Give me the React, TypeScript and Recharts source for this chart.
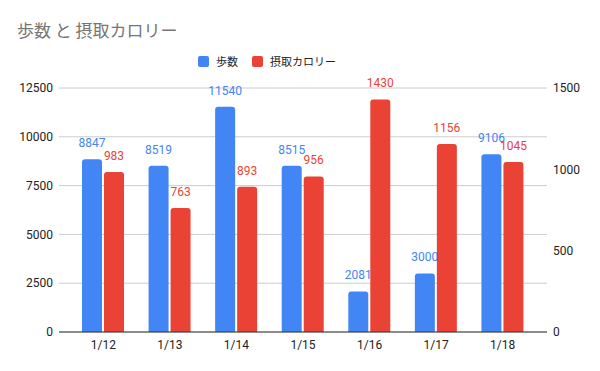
import { BarChart, Bar, XAxis, YAxis, CartesianGrid, LabelList } from 'recharts';

const dates = ['1/12', '1/13', '1/14', '1/15', '1/16', '1/17', '1/18'];
const steps = [8847, 8519, 11540, 8515, 2081, 3000, 9106];
const calories = [983, 763, 893, 956, 1430, 1156, 1045];
const stepTicks = [0, 2500, 5000, 7500, 10000, 12500];
const calTicks = [0, 500, 1000, 1500];

const BLUE = '#4285F4';
const RED = '#EA4335';

const data = dates.map((d, i) => ({ date: d, steps: steps[i], calories: calories[i] }));

const legendItems = [
  { name: '歩数', color: BLUE },
  { name: '摂取カロリー', color: RED },
];

const ChartLegend = () => (
  <div style={{ position: 'absolute', left: 198, top: 55, display: 'flex', gap: 14, fontSize: 11, lineHeight: '13px', color: '#222', fontFamily: '"Noto Sans CJK JP", sans-serif' }}>
    {legendItems.map((it) => (
      <div key={it.name} style={{ display: 'flex', alignItems: 'center' }}>
        <span style={{ width: 11, height: 11, borderRadius: 2, background: it.color, marginRight: 7, display: 'inline-block' }} />
        <span>{it.name}</span>
      </div>
    ))}
  </div>
);

export default function App() {
  const font = 'Roboto, "Noto Sans CJK JP", Arial, sans-serif';
  return (
    <div style={{ position: 'absolute', left: 0, top: 0, width: 600, height: 371, background: '#fff', fontFamily: font }}>
      <div style={{ position: 'absolute', left: 17, top: 20, fontSize: 17, color: '#757575', fontFamily: '"Noto Sans CJK JP", sans-serif', lineHeight: '20px' }}>
        歩数 と 摂取カロリー
      </div>
      <ChartLegend />
      <BarChart
        width={600}
        height={371}
        data={data}
        margin={{ top: 88, right: 8, bottom: 9, left: 9 }}
        barSize={20}
        barGap={2}
      >
        <CartesianGrid vertical={false} stroke="#cccccc" yAxisId="left" />
        <XAxis
          dataKey="date"
          padding={{ left: 11, right: 11 }}
          height={30}
          tickLine={false}
          tickSize={0}
          tickMargin={8}
          axisLine={{ stroke: '#333' }}
          tick={{ fill: '#222', fontSize: 12, fontFamily: font }}
        />
        <YAxis
          yAxisId="left"
          orientation="left"
          width={50}
          domain={[0, 12500]}
          ticks={stepTicks}
          axisLine={false}
          tickLine={false}
          tickSize={0}
          tickMargin={6}
          tick={{ fill: '#222', fontSize: 12, fontFamily: font }}
        />
        <YAxis
          yAxisId="right"
          orientation="right"
          width={45}
          domain={[0, 1500]}
          ticks={calTicks}
          axisLine={false}
          tickLine={false}
          tickSize={0}
          tickMargin={6}
          tick={{ fill: '#222', fontSize: 12, fontFamily: font, textAnchor: 'start' }}
        />
        <Bar yAxisId="left" dataKey="steps" name="歩数" fill={BLUE} radius={[3, 3, 0, 0]} isAnimationActive={false}>
          <LabelList dataKey="steps" position="top" offset={12} fill={BLUE} fontSize={12} fontFamily={font} />
        </Bar>
        <Bar yAxisId="right" dataKey="calories" name="摂取カロリー" fill={RED} radius={[3, 3, 0, 0]} isAnimationActive={false}>
          <LabelList dataKey="calories" position="top" offset={12} fill={RED} fontSize={12} fontFamily={font} />
        </Bar>
      </BarChart>
    </div>
  );
}
